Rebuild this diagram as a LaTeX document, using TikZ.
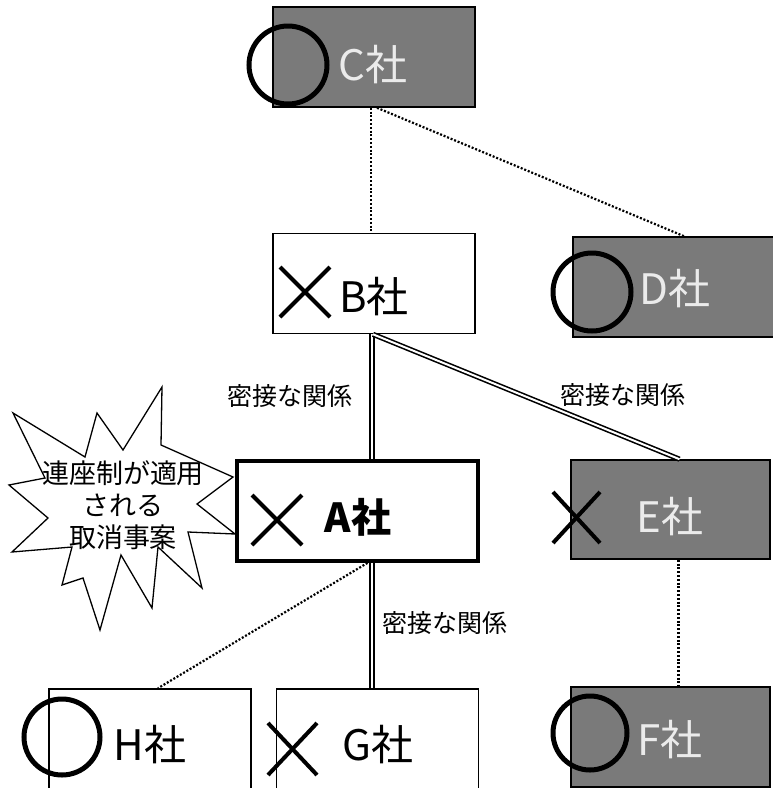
\documentclass[tikz,border=0pt]{standalone}
\usepackage{fontspec}
\setmainfont{Noto Sans CJK JP}
\begin{document}
\begin{tikzpicture}[x=1pt,y=-1pt,
    firm/.style={draw,line width=1.6pt,minimum width=202pt,minimum height=100pt,inner sep=0pt},
    firmdark/.style={firm,fill=black!52},
    firmname/.style={font=\fontsize{42}{42}\selectfont,inner sep=0pt},
    ok/.style={line width=5pt},
    ng/.style={line width=4pt},
    tie/.style={double,line width=1.6pt,double distance=2pt},
    link/.style={line width=2.2pt,dash pattern=on 2pt off 1.8pt},
    relation/.style={font=\fontsize{25}{25}\selectfont,inner sep=0pt}]
    \useasboundingbox (0,0) rectangle (772,788);

    \node[firmdark] (C) at (374,57) {};
    \node[firm] (B) at (374,283.5) {};
    \node[firmdark] (D) at (674,287) {};
    \node[firm,line width=3.8pt,minimum width=241pt] (A) at (357.5,511) {};
    \node[firmdark,minimum width=199pt,minimum height=99pt] (E) at (670.5,509.5) {};
    \node[firmdark,minimum width=199pt] (F) at (670.5,737) {};
    \node[firm] (H) at (150,739) {};
    \node[firm] (G) at (377.5,739) {};

    \node[firmname,text=black!8] (Cname) at (373,65) {C社};
    \node[firmname] (Bname) at (374,297) {B社};
    \node[firmname,text=black!8] (Dname) at (675,289) {D社};
    \node[firmname,font=\fontsize{40}{40}\selectfont\bfseries] (Aname) at (358,517) {A社};
    \node[firmname,text=black!8] (Ename) at (670,517) {E社};
    \node[firmname,text=black!8] (Fname) at (670,740) {F社};
    \node[firmname] (Hname) at (150,745) {H社};
    \node[firmname] (Gname) at (378,745) {G社};

    % ties between the firms
    \draw[link] ([xshift=-3pt]C.south) -- ([xshift=-3pt]C.south |- B.north);
    \draw[link] ([xshift=3pt]C.south) -- ([xshift=10pt]D.north);
    \draw[tie] ([xshift=-2pt]B.south) -- ([xshift=-2pt]B.south |- A.north);
    \draw[tie] ([xshift=-1pt]B.south) -- ([xshift=9pt]E.north);
    \draw[tie] ([xshift=-2pt]B.south |- A.south) -- ([xshift=-2pt]B.south |- G.north);
    \draw[link] ([xshift=10pt]A.south) -- ([xshift=8pt]H.north);
    \draw[link] ([xshift=8pt]E.south) -- ([xshift=8pt]F.north);

    \node[relation] (rBA) at (290,396) {密接な関係};
    \node[relation] (rBE) at (623,395) {密接な関係};
    \node[relation] (rAG) at (445,623) {密接な関係};

    % marks
    \draw[ok] (288,65) circle[radius=39];
    \draw[ok] (592,292) circle[radius=39];
    \draw[ok] (590,733) circle[radius=37];
    \draw[ok] (62,737) circle[radius=38];
    \draw[ng] (280,267) -- (330,317) (280,317) -- (330,267);
    \draw[ng] (252,495) -- (302,545) (252,545) -- (302,495);
    \draw[ng] (553,492) -- (600,543) (553,543) -- (600,492);
    \draw[ng] (268,723) -- (317,775) (268,775) -- (317,723);

    \draw[line width=1.3pt,fill=white] (13,413) -- (85,457) -- (97,413) -- (123,450)
      -- (162,387) -- (161,445) -- (233,477) -- (197,504) -- (235,534) -- (188,532)
      -- (202,588) -- (158,547) -- (152,608) -- (121,555) -- (100,630) -- (83,578)
      -- (62,585) -- (72,547) -- (12,552) -- (48,518) -- (9,485) -- (45,478) -- cycle;
    \node[font=\fontsize{27}{32}\selectfont,align=center,inner sep=0pt] (burst) at (123,505) {
      連座制が適用\\
      される\\
      取消事案};
  \end{tikzpicture}
\end{document}
